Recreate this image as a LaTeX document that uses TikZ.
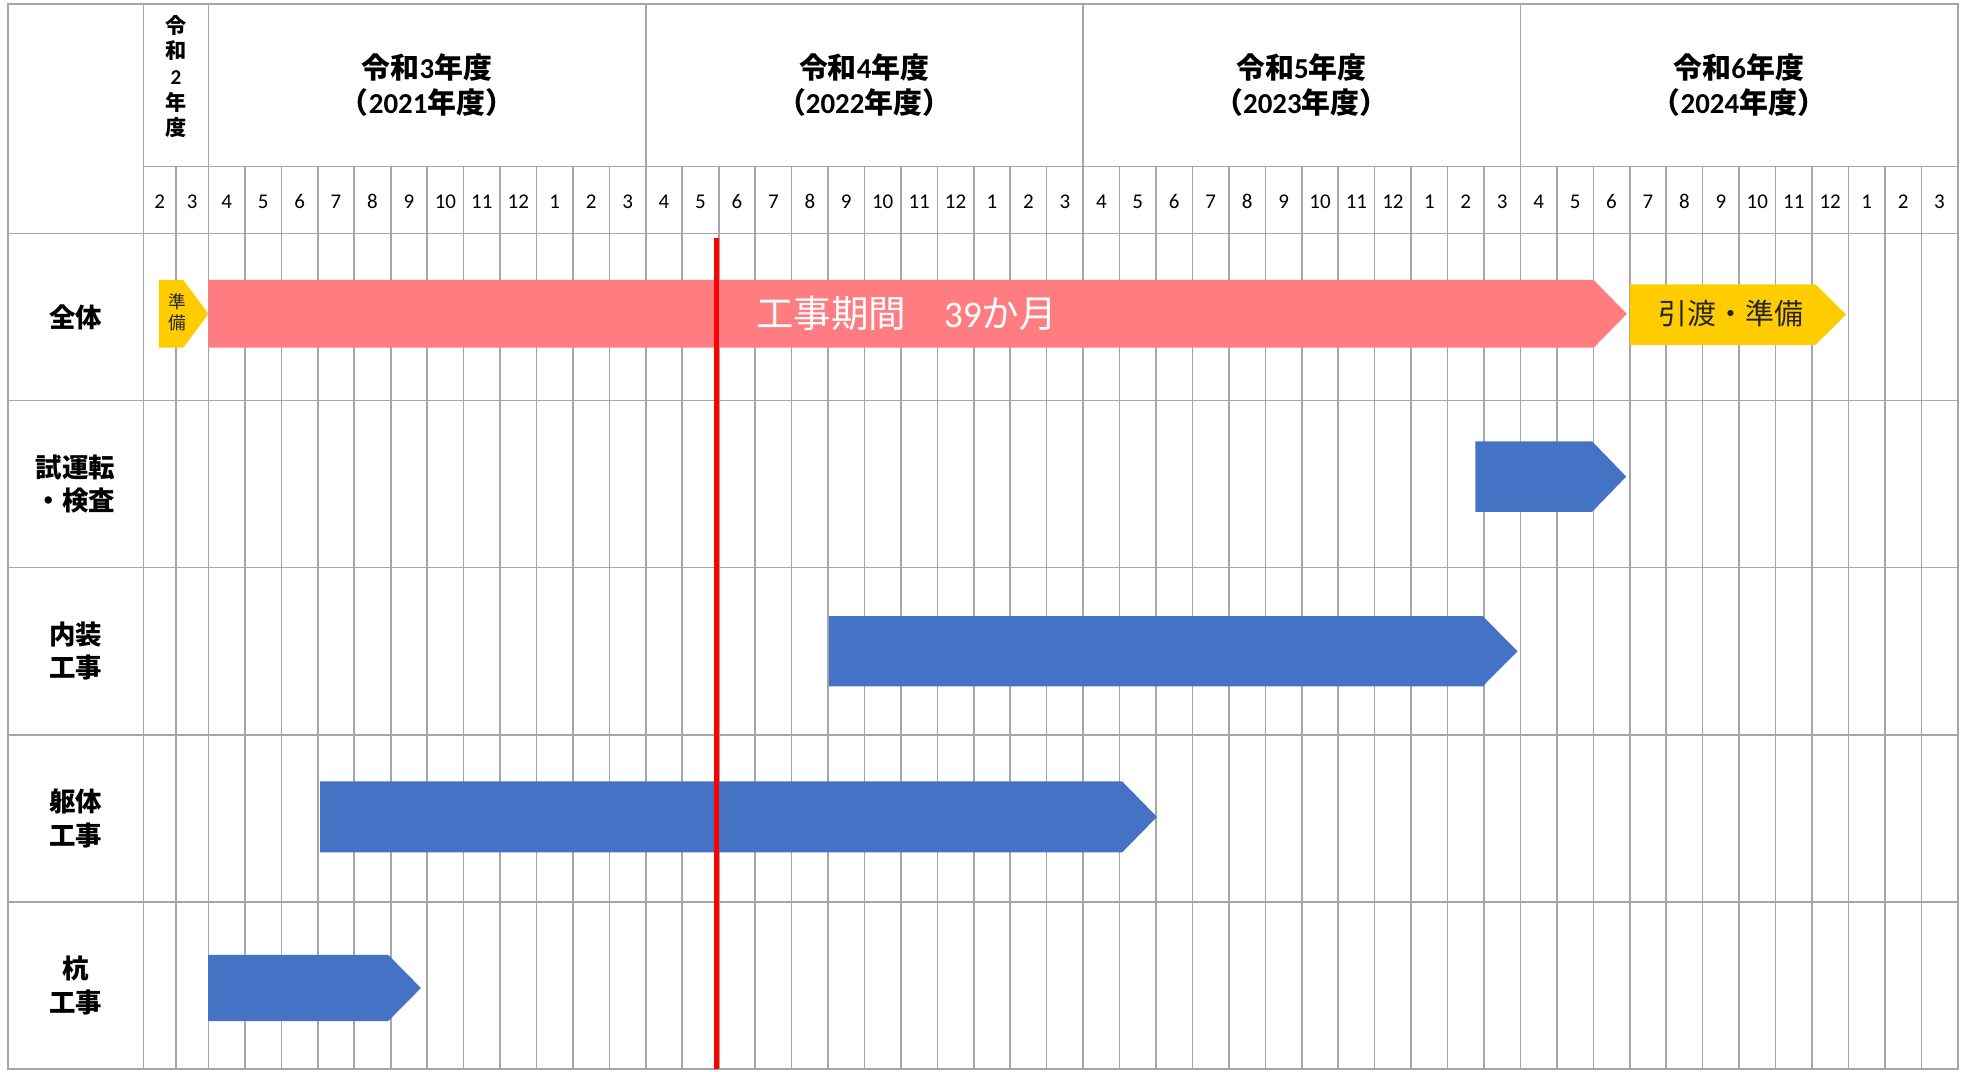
\documentclass[tikz,border=0pt]{standalone}
\usepackage{fontspec}
\setmainfont{Carlito}
\newfontfamily\jp{Noto Sans CJK JP}
\usepackage{tikz}
\newcommand{\lat}[1]{{\rmfamily #1}}
\definecolor{gridgray}{HTML}{A6A6A6}
\definecolor{barblue}{HTML}{4472C4}
\definecolor{barpink}{HTML}{FF7C80}
\definecolor{baryellow}{HTML}{FFCC00}
\tikzset{
    gridline/.style={draw=gridgray,line width=0.9pt},
    rowlabel/.style={font=\jp\bfseries\fontsize{15}{18.9}\selectfont,align=center,inner sep=0pt},
    yearlabel/.style={font=\jp\bfseries\fontsize{16.4}{19.9}\selectfont,align=center,inner sep=0pt},
    monthlabel/.style={font=\fontsize{11.9}{14}\selectfont,inner sep=0pt},
}

\begin{document}
\begin{tikzpicture}[x=0.25mm,y=-0.25mm]
                \useasboundingbox (0,0) rectangle (1568,854.2);
                % Table grid
                \draw[gridline](6.4,3.2) rectangle (1561.4,852.6);
                \draw[gridline](114.3,132.7)--(1561.4,132.7);
                \draw[gridline](6.4,186.2)--(1561.4,186.2);
                \foreach \i in {1,...,4}
                    \draw[gridline](6.4,{186.2+133.28*\i})--(1561.4,{186.2+133.28*\i});
                \draw[gridline](114.3,3.2)--(114.3,852.6);
                \draw[gridline](140.3,132.7)--(140.3,852.6);
                \draw[gridline](166.3,3.2)--(166.3,852.6);
                \foreach \k in {1,...,47}
                    \draw[gridline]({166.3+29.065*\k},132.7)--({166.3+29.065*\k},852.6);
                \foreach \k in {12,24,36}
                    \draw[gridline]({166.3+29.065*\k},3.2)--({166.3+29.065*\k},132.7);
                % Year headers
                \node[yearlabel,font=\jp\bfseries\fontsize{12}{14.6}\selectfont](fy2) at (140.3,61){令\\和\\\lat{2}\\年\\度};
                \node[yearlabel](fy3) at (340.6,68){令和\lat{3}年度\\（\lat{2021}年度）};
                \node[yearlabel](fy4) at (689.2,68){令和\lat{4}年度\\（\lat{2022}年度）};
                \node[yearlabel](fy5) at (1037.9,68){令和\lat{5}年度\\（\lat{2023}年度）};
                \node[yearlabel](fy6) at (1386.8,68){令和\lat{6}年度\\（\lat{2024}年度）};
                % Months
                \node[monthlabel](mon-a) at (127.3,161){2};
                \node[monthlabel](mon-b) at (153.3,161){3};
                \foreach \k in {0,...,47}{
                    \pgfmathtruncatemacro\mon{mod(\k+3,12)+1}
                    \node[monthlabel](mon-\k) at ({166.3+29.065*(\k+0.5)},161){\mon};
                }
                % Row labels
                \node[rowlabel](all) at (60.3,252.8){全体};
                \node[rowlabel](test) at (60.3,386.1){試運転\\・検査};
                \node[rowlabel](inner) at (60.3,519.4){内装\\工事};
                \node[rowlabel](frame) at (60.3,652.7){躯体\\工事};
                \node[rowlabel](pile) at (60.3,786){杭\\工事};
                % Bars
                \fill[baryellow](126.8,223.3)--(146.2,223.3)--(166.2,250.3)--(146.2,277.3)--(126.8,277.3)--cycle;
                \fill[barpink](166.2,223.3)--(1271,223.3)--(1297.5,250.3)--(1271,277.3)--(166.2,277.3)--cycle;
                \fill[baryellow](1300,226.8)--(1448,226.8)--(1472.4,250.9)--(1448,275)--(1300,275)--cycle;
                \fill[barblue](1176.7,352)--(1269.8,352)--(1297,380.1)--(1269.8,408.2)--(1176.7,408.2)--cycle;
                \fill[barblue](661,491.3)--(1182.5,491.3)--(1210.3,519.4)--(1182.5,547.4)--(661,547.4)--cycle;
                \fill[barblue](255.4,623.2)--(895,623.2)--(922.7,651.5)--(895,679.8)--(255.4,679.8)--cycle;
                \fill[barblue](166,761.5)--(309.6,761.5)--(335.7,788)--(309.6,814.4)--(166,814.4)--cycle;
                % Bar texts
                \node[font=\jp\fontsize{10}{11.9}\selectfont,align=center,inner sep=0pt,text=black!85](prep) at (141.5,249){準\\備};
                \node[font=\jp\fontsize{21.3}{24}\selectfont,text=white,inner sep=0pt](period) at (723,250){工事期間　\lat{39}か月};
                \node[font=\jp\fontsize{16.4}{19}\selectfont,text=black!85,inner sep=0pt](handover) at (1380.6,250){引渡・準備};
                % Today line
                \coordinate(now-top) at (571.3,190);
                \coordinate(now-bot) at (571.3,852.6);
                \draw[red,line width=3pt](now-top)--(now-bot);
            \end{tikzpicture}
\end{document}
